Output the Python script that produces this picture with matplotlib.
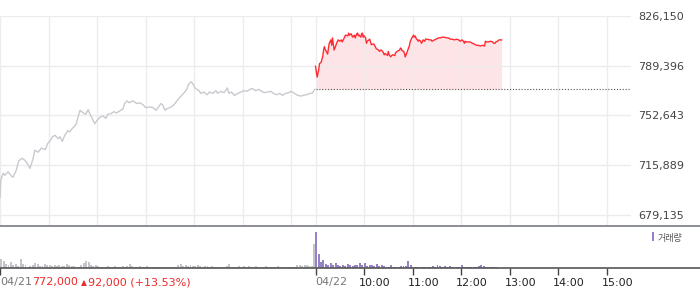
import matplotlib
matplotlib.use("Agg")
import matplotlib.pyplot as plt
import matplotlib.transforms as mtransforms
import numpy as np

# 04/21 session, minutes after 09:00
day1_min = [0, 1, 4, 6, 10, 14, 16, 20, 23, 27, 31, 35, 37, 41, 43, 47, 51, 56, 59, 62,
            65, 68, 72, 74, 77, 80, 84, 86, 90, 94, 96, 99, 102, 106, 109, 111, 114, 117, 120, 123,
            127, 131, 133, 137, 141, 144, 148, 152, 154, 157, 160, 164, 169, 173, 177, 180, 185, 189, 193, 196,
            199, 201, 204, 206, 210, 214, 217, 220, 223, 227, 231, 233, 236, 238, 241, 243, 246, 248, 252, 256,
            259, 263, 267, 269, 273, 277, 281, 283, 286, 290, 294, 298, 301, 305, 309, 312, 316, 320, 323, 327,
            331, 335, 338, 342, 346, 349, 353, 357, 360, 364, 368, 372, 375, 379, 383, 386, 389]
day1_price = [692000, 705000, 710000, 708500, 711000, 708000, 707000, 712000, 719000, 721000,
              719500, 716000, 713500, 721000, 727000, 725500, 728500, 727500, 732000, 734000,
              737000, 738000, 735500, 737000, 733500, 738000, 741500, 740500, 743500, 746000,
              750500, 756500, 755000, 753500, 757000, 754000, 750500, 746500, 749000, 751000,
              752500, 750500, 753500, 754000, 755500, 754500, 756000, 757500, 761500, 763500,
              762000, 763500, 761500, 762000, 760500, 758500, 759000, 758500, 756500, 759000,
              761500, 760500, 756500, 757500, 758500, 760000, 762000, 764500, 766500, 769000,
              772000, 775500, 777500, 776500, 773000, 772000, 771000, 769000, 770000, 768000,
              770000, 769000, 771000, 769000, 770500, 769500, 773000, 769000, 770000, 767500,
              769000, 770000, 771000, 770500, 772000, 772500, 771000, 772000, 770500, 769500,
              770000, 770500, 769000, 768000, 769000, 767500, 769000, 769500, 770500, 769000,
              767500, 767000, 767500, 768000, 769000, 769000, 772000]

# 04/22 session, minutes after 09:00
day2_min = [0, 1, 2, 4, 5, 7, 9, 10, 11, 12, 15, 16, 17, 19, 20, 21, 22, 23, 25, 26,
            28, 30, 32, 33, 36, 37, 40, 41, 42, 44, 46, 48, 49, 51, 52, 53, 54, 56, 57, 58,
            59, 60, 62, 63, 64, 67, 68, 69, 72, 74, 75, 78, 79, 81, 83, 85, 86, 89, 90, 91,
            93, 95, 98, 99, 101, 104, 105, 106, 107, 109, 110, 111, 112, 114, 115, 116, 117, 119, 120, 121,
            122, 123, 125, 126, 127, 128, 130, 131, 132, 133, 135, 136, 138, 141, 143, 144, 147, 149, 152, 154,
            157, 159, 162, 164, 167, 169, 172, 174, 177, 179, 181, 183, 184, 185, 186, 189, 191, 194, 196, 199,
            201, 204, 206, 209, 210, 211, 214, 216, 219, 220, 222, 223, 225, 227, 230]
day2_price = [789000, 785000, 781000, 786500, 791000, 792000, 796500, 801000, 803500, 801500,
              798000, 802500, 806000, 808500, 804500, 810000, 805500, 801000, 804000, 806000,
              808500, 807500, 808500, 807000, 810500, 812000, 811500, 813500, 812000, 813000,
              810500, 812000, 810000, 813000, 813500, 811500, 812000, 810500, 813000, 813500,
              810500, 811500, 810000, 806000, 807500, 809000, 807000, 805000, 805500, 803500,
              802000, 801000, 800000, 801000, 800000, 797500, 798500, 797000, 800000, 797500,
              796000, 797500, 797000, 799000, 800000, 801000, 802500, 802000, 800500, 800000,
              798500, 796000, 797500, 801000, 802500, 804000, 807000, 810000, 810500, 812000,
              810500, 811500, 809000, 808500, 807500, 808500, 807500, 806000, 807000, 808500,
              807500, 809000, 809000, 808500, 808500, 807500, 808500, 809000, 810000, 810000,
              810500, 810500, 810000, 810000, 809000, 809000, 808500, 809000, 808500, 807500,
              808500, 807500, 806000, 807500, 807000, 807000, 807000, 806000, 805500, 804500,
              804500, 804000, 804500, 804000, 807500, 807000, 807000, 807500, 807000, 806000,
              806000, 807000, 807500, 808500, 808500]

prev_close = 772000
y_ticks = [679135, 715889, 752643, 789396, 826150]

# volume per 3-minute bin
vol_day1 = [900, 700, 400, 300, 600, 300, 400, 200, 900, 400, 300, 100, 200, 300, 500, 400,
            200, 200, 400, 300, 300, 200, 300, 200, 300, 200, 200, 400, 300, 200, 200, 100,
            100, 300, 500, 700, 600, 300, 200, 300, 200, 100, 100, 100, 200, 100, 100, 200,
            100, 100, 200, 100, 200, 400, 200, 100, 100, 200, 100, 100, 200, 100, 100, 100,
            100, 100, 100, 100, 100, 100, 100, 100, 100, 300, 400, 200, 300, 200, 300, 200,
            200, 300, 200, 100, 200, 200, 100, 200, 100, 100, 100, 100, 100, 200, 400, 100,
            100, 100, 200, 100, 200, 100, 200, 100, 100, 200, 100, 100, 100, 200, 100, 100,
            100, 100, 200, 100, 100, 100, 100, 100, 100, 100, 300, 300, 200, 300, 300, 200,
            200, 2400]
vol_day2 = [3600, 1400, 600, 800, 400, 300, 500, 300, 500, 300, 200, 300, 200, 400, 300, 200,
            300, 350, 500, 300, 500, 200, 300, 350, 200, 400, 200, 350, 200, 150, 150, 350,
            150, 100, 100, 200, 200, 200, 700, 300, 150, 100, 100, 100, 150, 100, 100, 100,
            200, 100, 300, 200, 100, 200, 150, 200, 100, 70, 70, 70, 300, 150, 70, 70,
            70, 70, 70, 200, 300, 200, 100, 70, 70, 70, 130]

W, H = 700, 289
fig = plt.figure(figsize=(W / 100, H / 100), dpi=100)

grid_c = "#ececec"

# price panel
ax = fig.add_axes([0, (H - 226) / H, 631 / W, 210 / H])
x1 = np.array(day1_min)
x2 = np.array(day2_min) + 390
p2 = np.array(day2_price)
ax.plot(x1, day1_price, color="#c9cacf", lw=1.0)
ax.fill_between(x2, p2, prev_close, color="#fde4e6", lw=0)
ax.plot(x2, p2, color="#ff2b33", lw=1.0)
ax.plot([390, 780], [prev_close, prev_close], color="#555555", lw=0.8,
        linestyle=(0, (1, 1.6)))
ax.set_xlim(0, 780)
ax.set_ylim(671000, 826150)
ax.set_xticks(list(range(0, 361, 60)) + list(range(390, 751, 60)))
ax.set_xticklabels([])
ax.set_yticks(y_ticks)
ax.set_yticklabels([f"{v:,}" for v in y_ticks])
ax.yaxis.tick_right()
ax.tick_params(axis="both", length=0)
ax.tick_params(axis="y", pad=5, labelsize=8, labelcolor="#444444")
ax.grid(True, color=grid_c, lw=1.0)
for s in ax.spines.values():
    s.set_visible(False)

# volume panel
vx = W / 631 * 780
vax = fig.add_axes([0, 21 / H, 1, 42 / H])
b1 = np.arange(len(vol_day1)) * 3 + 1.5
b2 = np.arange(len(vol_day2)) * 3 + 390.8
vax.bar(b1, vol_day1, width=2.4, color="#c3c5ca", lw=0)
vax.bar(b2, vol_day2, width=2.4, color="#9682c6", lw=0)
vax.set_xlim(0, vx)
vax.set_ylim(0, 4200)
vax.set_yticks([])
tick_x = [0, 390, 450, 510, 570, 630, 690, 750]
vax.set_xticks(tick_x)
vax.set_xticklabels([])
vax.tick_params(axis="x", length=5, width=1, color="#444444", direction="out")
for k in ["left", "right"]:
    vax.spines[k].set_visible(False)
vax.spines["top"].set_color("#777a80")
vax.spines["bottom"].set_color("#555555")
vax.spines["top"].set_linewidth(1.2)
vax.spines["bottom"].set_linewidth(1.2)

# legend
vax.bar([653 / W * vx], [900], bottom=[2750], width=2.5 / W * vx, color="#9682c6", lw=0)
fig.text(658 / W, 1 - 238 / H, "거래량", fontsize=6.5, color="#555555",
         family=["Noto Sans CJK KR", "DejaVu Sans"], va="center", ha="left")

# bottom labels
ly = 1 - 282.5 / H
tr = mtransforms.blended_transform_factory(vax.transData, fig.transFigure)
time_labels = ["10:00", "11:00", "12:00", "13:00", "14:00", "15:00"]
shift = mtransforms.offset_copy(tr, fig=fig, x=-5, y=0, units="dots")
for t, lab in zip(tick_x[2:], time_labels):
    fig.text(t, ly, lab, transform=shift, fontsize=8, color="#222222",
             va="center", ha="left")
fig.text(390, ly, "04/22", transform=tr, fontsize=8, color="#777777",
         va="center", ha="left")
fig.text(0, ly, "04/21", fontsize=8, color="#777777", va="center", ha="left")
red = "#ee2a2a"
fig.text(32 / W, ly, "772,000", fontsize=8, color=red, va="center", ha="left")
fig.text(80.5 / W, ly, "▲", fontsize=5.5, color=red, va="center", ha="left")
fig.text(88 / W, ly, "92,000 (+13.53%)", fontsize=8, color=red, va="center", ha="left")

fig.savefig("out.png", dpi=100)
